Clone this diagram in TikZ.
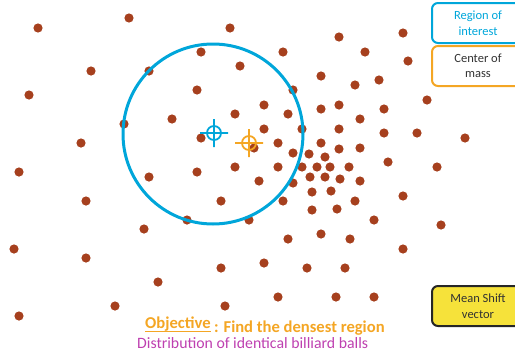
\documentclass[tikz,border=0pt]{standalone}
\usepackage{fontspec}
\setmainfont{Carlito}
\usetikzlibrary{positioning}

\definecolor{ballbrown}{RGB}{166,64,30}
\definecolor{roiblue}{RGB}{0,166,218}
\definecolor{comorange}{RGB}{244,166,36}
\definecolor{msyellow}{RGB}{246,226,58}
\definecolor{distpurple}{RGB}{190,64,176}
\definecolor{keygray}{RGB}{50,50,50}

\begin{document}
\begin{tikzpicture}[x=1pt, y=-1pt,
    ball/.style={fill=ballbrown},
    keybox/.style={draw, line width=2pt, rounded corners=6pt, minimum width=92pt, minimum height=40pt,
                   inner sep=0pt, align=center, font=\fontsize{12.5}{15.5}\selectfont},
    crosshair/.style={line width=1.8pt},
    caption/.style={inner sep=0pt, anchor=base west, font=\fontsize{15.8}{18}\selectfont},
    goalfont/.style={text=comorange, font=\fontsize{16.6}{18}\selectfont\bfseries}]
    \clip (0,0) rectangle (515,354);
    % billiard balls
    \foreach \x/\y in {38/28, 129/18, 230/28, 201/52, 240/66, 91/71, 149/71, 29/95, 197/90, 172/119,
                       235/114, 124/124, 81/143, 201/138, 254/148, 19/172, 149/177, 197/172, 235/167,
                       339/37, 403/33, 283/52, 365/52, 408/61, 321/76, 355/85, 379/80, 293/90, 427/100,
                       264/105, 288/114, 321/109, 339/105, 384/109, 360/119, 264/129, 302/129, 339/129,
                       384/133, 417/133, 465/138, 278/143, 321/143, 339/149, 360/148, 293/153, 309/154,
                       325/157, 388/162, 278/167, 302/167, 317/167, 330/167, 349/167, 437/167,
                       259/181, 293/183, 310/177, 325/177, 340/179, 360/181, 312/192, 331/191, 355/201,
                       403/196, 283/201, 312/210, 337/209, 374/220, 441/225, 288/239, 321/234, 350/239,
                       403/249, 264/263, 307/268, 345/268, 278/297, 336/297, 374/297,
                       86/201, 221/201, 187/220, 249/220, 144/229, 14/249, 86/258, 221/268, 158/282,
                       115/306, 225/306, 19/316}
        \fill[ball] (\x,\y) circle (4.6);
    % region of interest
    \draw[roiblue, line width=3pt] (213,134) circle (90);
    \coordinate (roi) at (214,133);
    \coordinate (com) at (249,143);
    \draw[crosshair, roiblue] (roi) circle (7) (roi) ++(-14,0) -- ++(28,0) (roi) ++(0,-14) -- ++(0,28);
    \draw[crosshair, comorange] (com) circle (7) (com) ++(-14,0) -- ++(28,0) (com) ++(0,-14) -- ++(0,28);
    % legend
    \node[keybox, draw=roiblue, text=roiblue] (roi-key) at (478,23) {Region of\\interest};
    \node[keybox, draw=comorange, text=keygray] (com-key) at (478,66) {Center of\\mass};
    \node[keybox, draw=black!85, fill=msyellow, text=keygray] (ms-key) at (478,306) {Mean Shift\\vector};
    % captions
    \node[caption, goalfont] (objective) at (145,328) {Objective};
    \node[caption, goalfont, right=3pt of objective.base east] (goal) {: Find the densest region};
    \draw[comorange, line width=1.6pt] ([yshift=-3.5pt]objective.base west) -- ([yshift=-3.5pt]objective.base east);
    \node[caption, text=distpurple] (distribution) at (137,348) {Distribution of identical billiard balls};
\end{tikzpicture}
\end{document}
